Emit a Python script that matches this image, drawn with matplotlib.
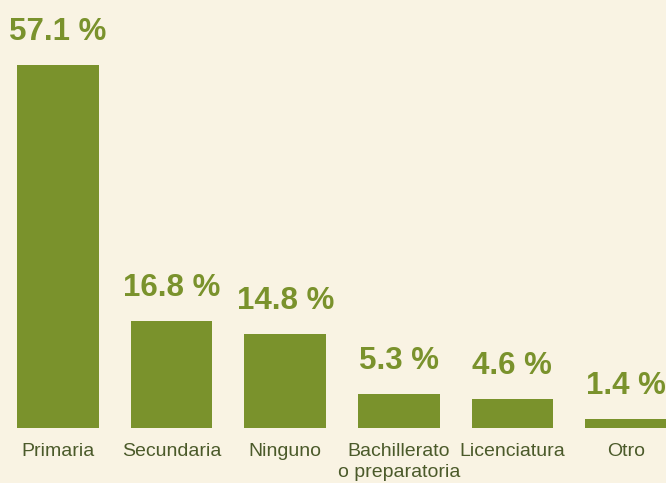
import matplotlib.pyplot as plt

categorias = ['Primaria', 'Secundaria', 'Ninguno', 'Bachillerato\no preparatoria',
              'Licenciatura', 'Otro']
porcentajes = [57.1, 16.8, 14.8, 5.3, 4.6, 1.4]

fondo = '#f9f3e3'
verde = '#7a922c'
texto = '#4b5a2a'

fig = plt.figure(figsize=(6.66, 4.83), dpi=100, facecolor=fondo)
ax = fig.add_axes([0, 55 / 483, 1, 428 / 483])
ax.set_facecolor(fondo)

x = list(range(len(categorias)))
ax.bar(x, porcentajes, width=0.72, color=verde)

# etiquetas de porcentaje sobre cada barra
for xi, v in zip(x, porcentajes):
    ax.annotate(('%.1f %%' % v), (xi, v), xytext=(0, 18), textcoords='offset points',
                ha='center', va='baseline', fontsize=22.5, fontweight='bold',
                family='Liberation Sans', color=verde)

ax.set_xlim(-58 / 113.6, (666 - 58) / 113.6)
ax.set_ylim(0, 428 / 6.357)
ax.set_xticks(x)
ax.set_xticklabels(categorias, fontsize=14, family='Liberation Sans', color=texto,
                   linespacing=1.3)
ax.tick_params(axis='x', length=0, pad=11)
ax.set_yticks([])
for s in ax.spines.values():
    s.set_visible(False)

plt.savefig('out.png', dpi=100, facecolor=fondo)
